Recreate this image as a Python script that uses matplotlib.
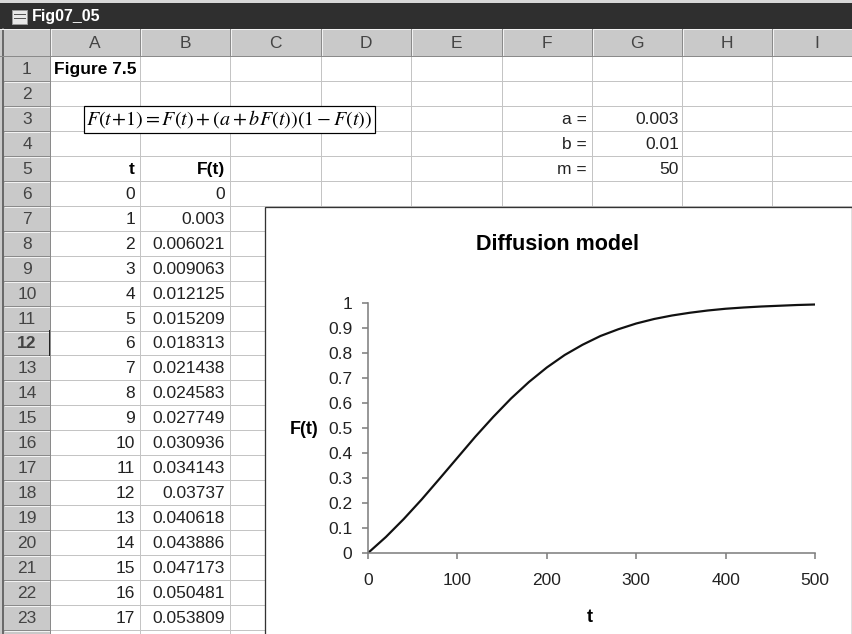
import matplotlib
matplotlib.use('Agg')
import matplotlib.pyplot as plt
from matplotlib.patches import Rectangle

plt.rcParams['font.family'] = ['Liberation Sans', 'DejaVu Sans']
plt.rcParams['mathtext.fontset'] = 'stix'

# data
col_letters = ['A', 'B', 'C', 'D', 'E', 'F', 'G', 'H', 'I']
t_table = [0, 1, 2, 3, 4, 5, 6, 7, 8, 9, 10, 11, 12, 13, 14, 15, 16, 17]
F_table = [0, 0.003, 0.006021, 0.009063, 0.012125, 0.015209, 0.018313,
           0.021438, 0.024583, 0.027749, 0.030936, 0.034143, 0.03737,
           0.040618, 0.043886, 0.047173, 0.050481, 0.053809]
param_names = ['a =', 'b =', 'm =']
param_values = [0.003, 0.01, 50]

# curve
t_curve = [0, 20, 40, 60, 80, 100, 120, 140, 160, 180, 200, 220, 240,
           260, 280, 300, 320, 340, 360, 380, 400, 420, 440, 460, 480, 500]
F_curve = [0, 0.064, 0.136, 0.214, 0.297, 0.381, 0.465, 0.544, 0.618, 0.684,
           0.742, 0.792, 0.833, 0.868, 0.895, 0.918, 0.936, 0.950, 0.961,
           0.970, 0.977, 0.982, 0.986, 0.989, 0.992, 0.994]

W, H = 853, 634
fig = plt.figure(figsize=(W / 100, H / 100), dpi=100)
px = 0.72  # one pixel in points

# sheet drawn in pixel coordinates
bg = fig.add_axes([0, 0, 1, 1])
bg.set_xlim(0, W)
bg.set_ylim(H, 0)
bg.axis('off')

col_edges = [50, 140, 230, 321, 411, 502, 592, 682, 772, 862]
head_top, head_bot = 29, 56
rh = (630 - head_bot) / 23
row_edges = [head_bot + i * rh for i in range(24)]
cell_fs = 12.5
hdr_col = '#c9c9c9'

# title bar
bg.add_patch(Rectangle((0, 0), W, 3, fc='#d8d8d8', ec='none'))
bg.add_patch(Rectangle((0, 3), W, head_top - 3, fc='#2f2f2f', ec='none'))
bg.add_patch(Rectangle((12, 10), 15, 14, fc='#e8e8e8', ec='#999999', lw=px))
bg.plot([14, 25], [14, 14], color='#555555', lw=px)
bg.plot([14, 25], [18, 18], color='#555555', lw=px)
bg.text(32, 17, 'Fig07_05', color='white', fontsize=11.5, fontweight='bold',
        va='center', ha='left')

# headers
bg.add_patch(Rectangle((0, head_top), W, head_bot - head_top, fc=hdr_col, ec='none'))
bg.add_patch(Rectangle((0, head_bot), 50, H - head_bot, fc=hdr_col, ec='none'))
bg.plot([3, 3], [head_top, H], color='#6a6a6a', lw=2 * px)
bg.plot([0, W], [head_top, head_top], color='#f2f2f2', lw=px)
for x in col_edges:
    bg.plot([x, x], [head_top, head_bot], color='#8a8a8a', lw=px)
    bg.plot([x + 1, x + 1], [head_top + 1, head_bot - 1], color='#f2f2f2', lw=px)
for i, c in enumerate(col_letters):
    bg.text((col_edges[i] + col_edges[i + 1]) / 2, (head_top + head_bot) / 2 + 1, c,
            fontsize=cell_fs, color='#444444', ha='center', va='center')
for i in range(23):
    y0, y1 = row_edges[i], row_edges[i + 1]
    bg.plot([4, 50], [y1, y1], color='#8a8a8a', lw=px)
    bg.plot([5, 49], [y1 + 1, y1 + 1], color='#f2f2f2', lw=px)
    bg.text(27, (y0 + y1) / 2 + 1, str(i + 1), fontsize=cell_fs, color='#444444',
            ha='center', va='center', fontweight='bold' if i == 11 else 'normal')
bg.plot([50, 50], [row_edges[11], row_edges[12]], color='#222222', lw=2 * px)
bg.plot([50, 50], [head_bot, H], color='#8a8a8a', lw=px)
bg.plot([0, W], [head_bot, head_bot], color='#8a8a8a', lw=px)

# grid
for x in col_edges[1:]:
    bg.plot([x, x], [head_bot, H], color='#c4c4c4', lw=px, zorder=1)
for y in row_edges[1:]:
    bg.plot([50, W], [y, y], color='#c4c4c4', lw=px, zorder=1)


def rowc(r):
    return (row_edges[r - 1] + row_edges[r]) / 2 + 1


# cell contents
bg.text(54, rowc(1), 'Figure 7.5', fontsize=cell_fs, fontweight='bold', va='center')
bg.text(86, rowc(3), r'$F(t\!+\!1) = F(t) + (a + bF(t))(1 - F(t))$', fontsize=14.5,
        va='center', ha='left', zorder=3,
        bbox=dict(boxstyle='square,pad=0.12', fc='white', ec='black', lw=1.2 * px))
bg.text(col_edges[1] - 5, rowc(5), 't', fontsize=cell_fs, fontweight='bold',
        ha='right', va='center')
bg.text(col_edges[2] - 5, rowc(5), 'F(t)', fontsize=cell_fs, fontweight='bold',
        ha='right', va='center')
for k, (tv, fv) in enumerate(zip(t_table, F_table)):
    r = 6 + k
    bg.text(col_edges[1] - 5, rowc(r), str(tv), fontsize=cell_fs, color='#222222',
            ha='right', va='center')
    bg.text(col_edges[2] - 5, rowc(r), f'{fv:g}', fontsize=cell_fs, color='#222222',
            ha='right', va='center')
for k, (name, val) in enumerate(zip(param_names, param_values)):
    r = 3 + k
    bg.text(col_edges[6] - 5, rowc(r), name, fontsize=cell_fs, color='#222222',
            ha='right', va='center')
    bg.text(col_edges[7] - 3, rowc(r), f'{val:g}', fontsize=cell_fs, color='#222222',
            ha='right', va='center')

# chart area
bg.add_patch(Rectangle((265, 207), 587, 440, fc='white', ec='#333333',
                       lw=1.3 * px, zorder=4))

# plot area
x0, x1 = 368, 815
y0, y1 = 553, 303
ax = fig.add_axes([x0 / W, (H - y0) / H, (x1 - x0) / W, (y0 - y1) / H])
ax.set_facecolor('none')
ax.plot(t_curve, F_curve, color='#111111', lw=2.2 * px)
ax.set_xlim(0, 500)
ax.set_ylim(0, 1)
ax.set_xticks([0, 100, 200, 300, 400, 500])
ax.set_yticks([0, 0.1, 0.2, 0.3, 0.4, 0.5, 0.6, 0.7, 0.8, 0.9, 1])
ax.set_yticklabels(['0', '0.1', '0.2', '0.3', '0.4', '0.5', '0.6', '0.7', '0.8', '0.9', '1'])
for s in ['top', 'right']:
    ax.spines[s].set_visible(False)
for s in ['left', 'bottom']:
    ax.spines[s].set_color('#808080')
    ax.spines[s].set_linewidth(1.6 * px)
ax.tick_params(direction='out', length=6 * px, width=1.6 * px, color='#808080',
               labelsize=12.5, labelcolor='#222222')
ax.tick_params(axis='y', pad=7)
ax.tick_params(axis='x', pad=10)
ax.set_ylabel('F(t)', fontsize=13, fontweight='bold', rotation=0,
              ha='center', va='center')
ax.yaxis.set_label_coords(-0.143, 0.492)
ax.set_xlabel('t', fontsize=13, fontweight='bold', ha='center', va='center')
ax.xaxis.set_label_coords(0.497, -0.256)
ax.text(0.425, 1.232, 'Diffusion model', transform=ax.transAxes, fontsize=15.5,
        fontweight='bold', ha='center', va='center')

fig.savefig('out.png', dpi=100)
